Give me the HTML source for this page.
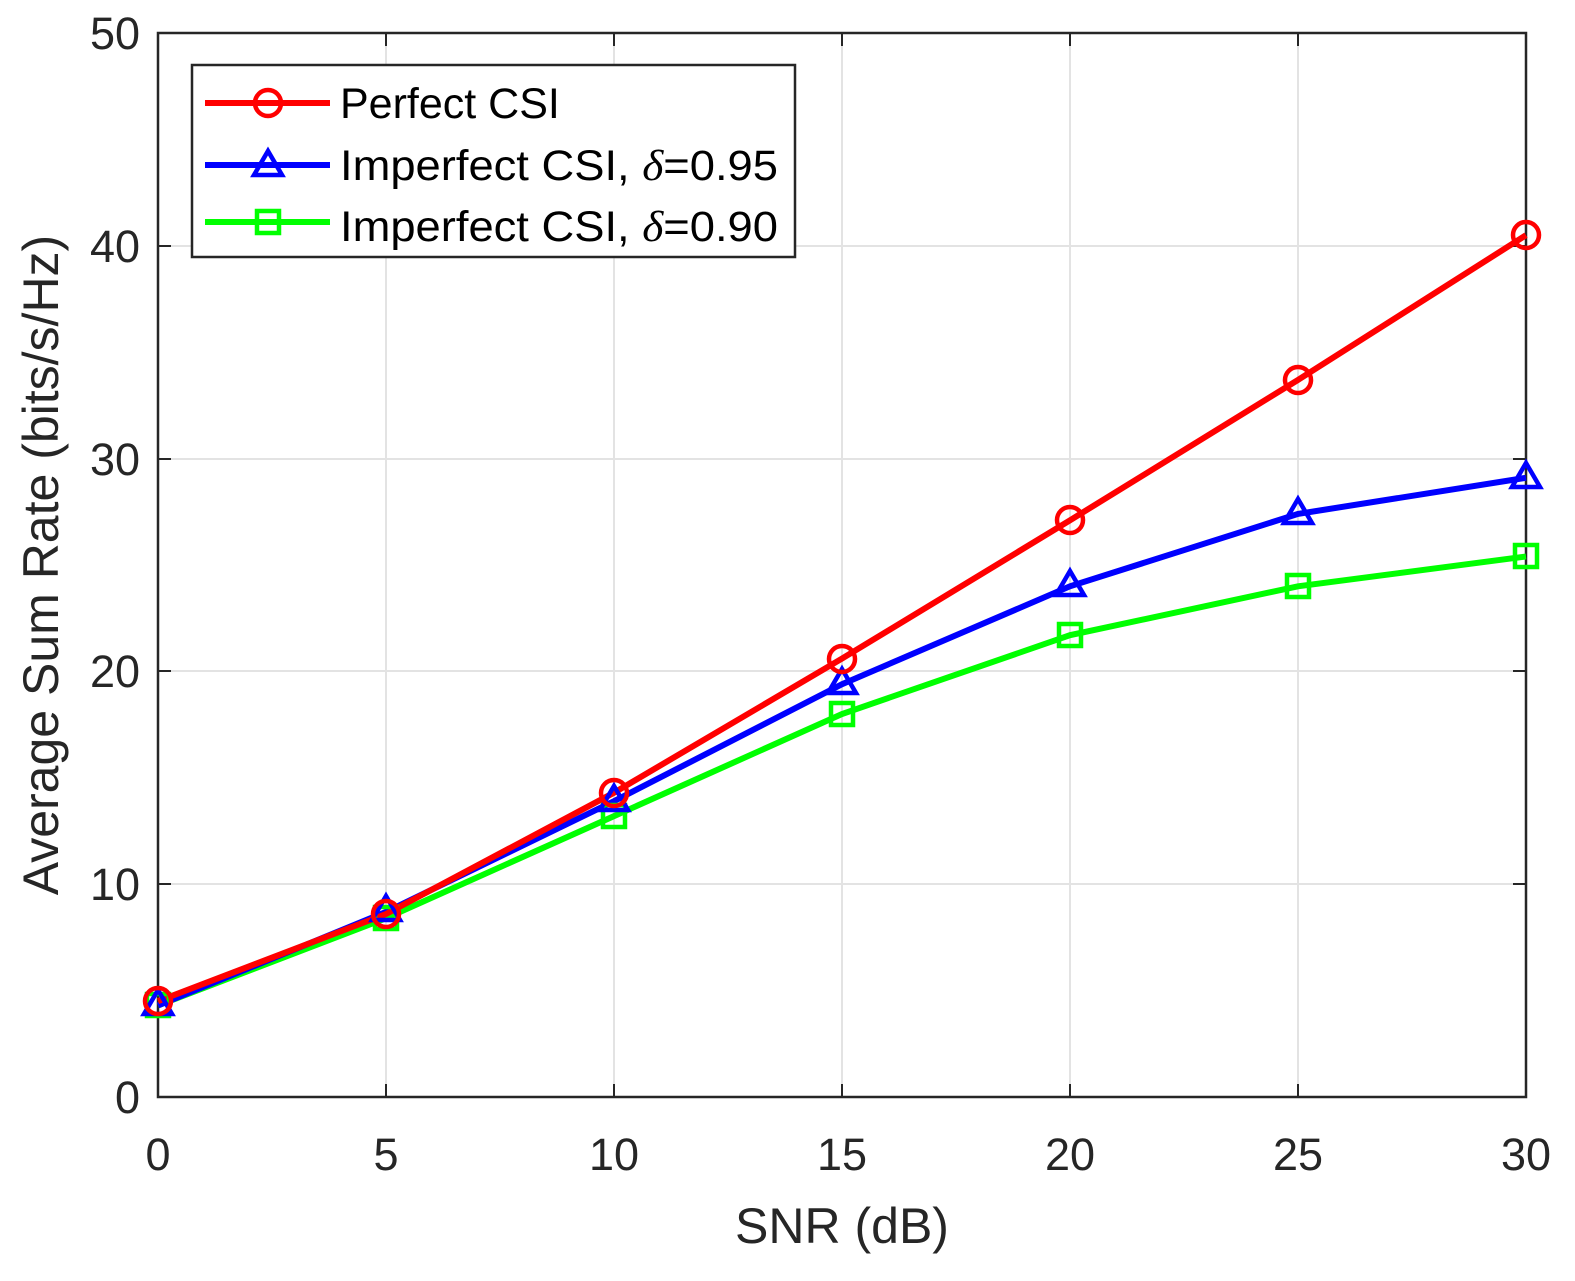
<!DOCTYPE html>
<html><head><style>body{margin:0;background:#fff}</style></head><body>
<svg width="1575" height="1276" xmlns="http://www.w3.org/2000/svg" font-family="Liberation Sans, Arial, sans-serif">
<rect width="1575" height="1276" fill="#fff"/>
<g stroke="#e3e3e3" stroke-width="2">
<line x1="386" y1="33" x2="386" y2="1097"/><line x1="614" y1="33" x2="614" y2="1097"/><line x1="842" y1="33" x2="842" y2="1097"/><line x1="1070" y1="33" x2="1070" y2="1097"/><line x1="1298" y1="33" x2="1298" y2="1097"/>
<line x1="158" y1="884" x2="1526" y2="884"/><line x1="158" y1="671" x2="1526" y2="671"/><line x1="158" y1="459" x2="1526" y2="459"/><line x1="158" y1="246" x2="1526" y2="246"/>
</g>
<rect x="158" y="33" width="1368" height="1064" fill="none" stroke="#262626" stroke-width="2.5"/>
<g stroke="#262626" stroke-width="2">
<line x1="386" y1="1097" x2="386" y2="1084"/><line x1="614" y1="1097" x2="614" y2="1084"/><line x1="842" y1="1097" x2="842" y2="1084"/><line x1="1070" y1="1097" x2="1070" y2="1084"/><line x1="1298" y1="1097" x2="1298" y2="1084"/>
<line x1="386" y1="33" x2="386" y2="46"/><line x1="614" y1="33" x2="614" y2="46"/><line x1="842" y1="33" x2="842" y2="46"/><line x1="1070" y1="33" x2="1070" y2="46"/><line x1="1298" y1="33" x2="1298" y2="46"/>
<line x1="158" y1="884" x2="171" y2="884"/><line x1="158" y1="671" x2="171" y2="671"/><line x1="158" y1="459" x2="171" y2="459"/><line x1="158" y1="246" x2="171" y2="246"/>
<line x1="1526" y1="884" x2="1513" y2="884"/><line x1="1526" y1="671" x2="1513" y2="671"/><line x1="1526" y1="459" x2="1513" y2="459"/><line x1="1526" y1="246" x2="1513" y2="246"/>
</g>
<g font-size="45" fill="#262626" text-anchor="middle">
<text x="158" y="1170">0</text><text x="386" y="1170">5</text><text x="614" y="1170">10</text><text x="842" y="1170">15</text><text x="1070" y="1170">20</text><text x="1298" y="1170">25</text><text x="1526" y="1170">30</text>
</g>
<g font-size="45" fill="#262626" text-anchor="end">
<text x="140" y="1113">0</text><text x="140" y="900">10</text><text x="140" y="687">20</text><text x="140" y="475">30</text><text x="140" y="262">40</text><text x="140" y="49">50</text>
</g>
<text x="842" y="1243" font-size="50" fill="#262626" text-anchor="middle">SNR (dB)</text>
<text transform="translate(58,565) rotate(-90)" font-size="50" fill="#262626" text-anchor="middle">Average Sum Rate (bits/s/Hz)</text>
<g fill="none" stroke-width="6">
<polyline stroke="#00ff00" points="158,1005.5 386,918.2 614,816.1 842,714 1070,635.2 1298,586.3 1526,556.5"/>
<polyline stroke="#0000ff" points="158,1005.5 386,911.9 614,801.2 842,684.2 1070,586.3 1298,513.9 1526,477.8"/>
<polyline stroke="#ff0000" points="158,1001.2 386,914 614,792.7 842,658.6 1070,520.3 1298,379.9 1526,235.2"/>
</g>
<g fill="none" stroke="#00ff00" stroke-width="4.5">
<rect x="147" y="994" width="22" height="22"/><rect x="375" y="907" width="22" height="22"/><rect x="603" y="805" width="22" height="22"/><rect x="831" y="703" width="22" height="22"/><rect x="1059" y="624" width="22" height="22"/><rect x="1287" y="575" width="22" height="22"/><rect x="1515" y="545" width="22" height="22"/>
</g>
<g fill="none" stroke="#0000ff" stroke-width="4.5">
<polygon points="158,990 172,1014 144,1014"/><polygon points="386,896 400,920 372,920"/><polygon points="614,786 628,810 600,810"/><polygon points="842,669 856,693 828,693"/><polygon points="1070,571 1084,595 1056,595"/><polygon points="1298,499 1312,523 1284,523"/><polygon points="1526,463 1540,487 1512,487"/>
</g>
<g fill="none" stroke="#ff0000" stroke-width="4.5">
<circle cx="158" cy="1001" r="13"/><circle cx="386" cy="914" r="13"/><circle cx="614" cy="793" r="13"/><circle cx="842" cy="659" r="13"/><circle cx="1070" cy="520" r="13"/><circle cx="1298" cy="380" r="13"/><circle cx="1526" cy="235" r="13"/>
</g>
<rect x="192" y="65" width="603" height="192" fill="#fff" stroke="#262626" stroke-width="2.5"/>
<line x1="205" y1="103" x2="330" y2="103" stroke="#ff0000" stroke-width="6"/><circle cx="268" cy="103" r="13" fill="none" stroke="#ff0000" stroke-width="4.5"/>
<line x1="205" y1="165" x2="330" y2="165" stroke="#0000ff" stroke-width="6"/><polygon points="268,151 282,175 254,175" fill="none" stroke="#0000ff" stroke-width="4.5"/>
<line x1="205" y1="222" x2="330" y2="222" stroke="#00ff00" stroke-width="6"/><rect x="257" y="211" width="22" height="22" fill="none" stroke="#00ff00" stroke-width="4.5"/>
<g font-size="43" fill="#000">
<text x="340" y="118">Perfect CSI</text>
<text x="340" y="180" textLength="438" lengthAdjust="spacingAndGlyphs">Imperfect CSI, <tspan font-family="Liberation Serif, serif" font-style="italic">δ</tspan>=0.95</text>
<text x="340" y="241" textLength="438" lengthAdjust="spacingAndGlyphs">Imperfect CSI, <tspan font-family="Liberation Serif, serif" font-style="italic">δ</tspan>=0.90</text>
</g>
</svg>
</body></html>
